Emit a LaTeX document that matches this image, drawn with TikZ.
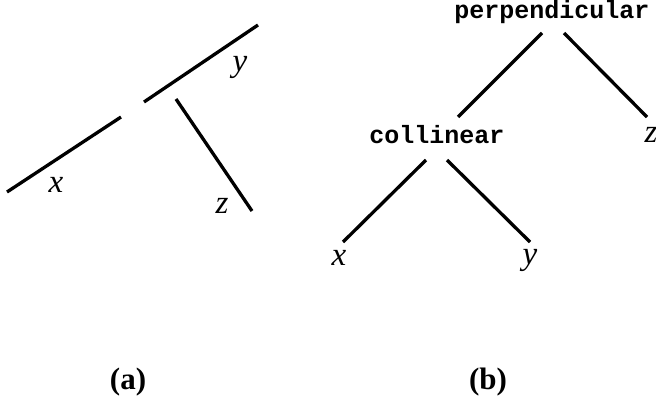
\documentclass[tikz,border=0pt]{standalone}
\usepackage{fontspec}
\setmainfont{Liberation Serif}
\newfontfamily\codefont{Liberation Mono}
\begin{document}
\begin{tikzpicture}[x=1pt,y=-1pt,
  edge/.style={line width=3.3pt},
  var/.style={inner sep=0pt,font=\fontsize{33}{33}\selectfont\itshape},
  pred/.style={inner sep=0pt,font=\fontsize{25}{25}\selectfont\codefont\bfseries},
  captext/.style={inner sep=0pt,font=\fontsize{31}{31}\selectfont\bfseries}]
\useasboundingbox (0,0) rectangle (656,399);
% (a)
\coordinate (ya) at (144,102); \coordinate (yb) at (258,25);
\coordinate (xa) at (7,192);   \coordinate (xb) at (121,117);
\coordinate (za) at (176,99);  \coordinate (zb) at (252,211);
\draw[edge] (ya) -- (yb);
\draw[edge] (xa) -- (xb);
\draw[edge] (za) -- (zb);
\node[var] (lx) at (56,185) {x};
\node[var] (ly) at (240,67) {y};
\node[var] (lz) at (222,206) {z};
\node[captext] (capa) at (128,382) {(a)};
% (b)
\node[pred] (perp) at (552,12) {perpendicular};
\node[pred] (coll) at (437,135) {collinear};
\node[var] (bz) at (651,135) {z};
\node[var] (bx) at (339,258) {x};
\node[var] (by) at (530,260) {y};
\coordinate (p1) at (542,33); \coordinate (c1) at (458,117);
\coordinate (p2) at (564,33); \coordinate (z1) at (647,117);
\coordinate (c2) at (426,160); \coordinate (x1) at (343,242);
\coordinate (c3) at (447,160); \coordinate (y1) at (530,242);
\draw[edge] (p1) -- (c1);
\draw[edge] (p2) -- (z1);
\draw[edge] (c2) -- (x1);
\draw[edge] (c3) -- (y1);
\node[captext] (capb) at (488,382) {(b)};
\end{tikzpicture}
\end{document}
